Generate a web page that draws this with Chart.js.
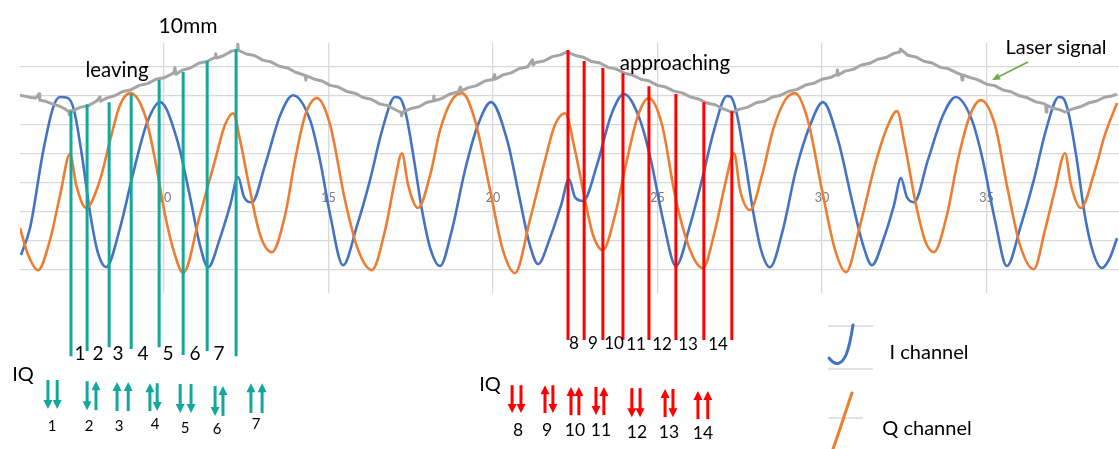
<!DOCTYPE html>
<html><head><meta charset="utf-8">
<script src="https://cdn.jsdelivr.net/npm/chart.js@4.4.1/dist/chart.umd.min.js"></script>
<style>
html,body{margin:0;padding:0;background:#fff;}
#wrap{position:relative;width:1119px;height:449px;overflow:hidden;font-family:Lato,'Liberation Sans',sans-serif;}
#c{position:absolute;left:0;top:0;}
svg{position:absolute;left:0;top:0;}
.t{position:absolute;transform:translate(-50%,-50%);white-space:nowrap;color:#000;line-height:1;}
</style></head><body>
<div id="wrap">
<canvas id="c" width="1119" height="449"></canvas>
<svg width="1119" height="449">
  <line x1="828" y1="326" x2="873" y2="326" stroke="#d9d9d9" stroke-width="1.5"/>
  <line x1="828" y1="369" x2="873" y2="369" stroke="#d9d9d9" stroke-width="1.5"/>
  <line x1="829" y1="418" x2="863" y2="418" stroke="#d9d9d9" stroke-width="1.5"/>
  <path d="M853,325 C851,338 849,348 846,355 C842,364 836,367 829,358" stroke="#4472c4" stroke-width="3" fill="none" stroke-linecap="round"/>
  <path d="M852,393 C846,410 840,430 833,449" stroke="#ed7d31" stroke-width="3" fill="none" stroke-linecap="round"/>
  <line x1="1028" y1="62" x2="998" y2="77" stroke="#70ad47" stroke-width="1.6"/>
  <polygon points="992,80 1000.8,79.5 997.6,73.3" fill="#70ad47"/>
</svg>
<div class="t" style="left:188px;top:24px;font-size:21px">10mm</div>
<div class="t" style="left:117px;top:69px;font-size:20.5px">leaving</div>
<div class="t" style="left:675px;top:62px;font-size:20.5px">approaching</div>
<div class="t" style="left:1056px;top:46px;font-size:20px">Laser signal</div>

<div class="t" style="left:80px;top:352px;font-size:19px">1</div>
<div class="t" style="left:98px;top:352px;font-size:19px">2</div>
<div class="t" style="left:118px;top:352px;font-size:19px">3</div>
<div class="t" style="left:143px;top:352px;font-size:19px">4</div>
<div class="t" style="left:168px;top:352px;font-size:19px">5</div>
<div class="t" style="left:195px;top:352px;font-size:19px">6</div>
<div class="t" style="left:219px;top:352px;font-size:19px">7</div>
<div class="t" style="left:23px;top:373px;font-size:20px">IQ</div>
<div class="t" style="left:52px;top:425px;font-size:15px">1</div>
<div class="t" style="left:89px;top:425px;font-size:15px">2</div>
<div class="t" style="left:119px;top:425px;font-size:15px">3</div>
<div class="t" style="left:155px;top:423px;font-size:15px">4</div>
<div class="t" style="left:185px;top:427px;font-size:15px">5</div>
<div class="t" style="left:217px;top:428px;font-size:15px">6</div>
<div class="t" style="left:256px;top:423px;font-size:15px">7</div>

<div class="t" style="left:574px;top:342px;font-size:17px">8</div>
<div class="t" style="left:593px;top:342px;font-size:17px">9</div>
<div class="t" style="left:614px;top:342px;font-size:17px">10</div>
<div class="t" style="left:636px;top:343px;font-size:17px">11</div>
<div class="t" style="left:662px;top:343px;font-size:17px">12</div>
<div class="t" style="left:688px;top:343px;font-size:17px">13</div>
<div class="t" style="left:718px;top:343px;font-size:17px">14</div>
<div class="t" style="left:490px;top:383px;font-size:20px">IQ</div>
<div class="t" style="left:518px;top:430px;font-size:17.5px">8</div>
<div class="t" style="left:547px;top:430px;font-size:17.5px">9</div>
<div class="t" style="left:575px;top:430px;font-size:17.5px">10</div>
<div class="t" style="left:601px;top:430px;font-size:17.5px">11</div>
<div class="t" style="left:637px;top:432px;font-size:17.5px">12</div>
<div class="t" style="left:669px;top:432px;font-size:17.5px">13</div>
<div class="t" style="left:703px;top:433px;font-size:17.5px">14</div>

<div class="t" style="left:929px;top:351px;font-size:20px">I channel</div>
<div class="t" style="left:927px;top:427px;font-size:20px">Q channel</div>
</div>
<script>
// ---- axis ticks ----
const xTicks = [10, 15, 20, 25, 30, 35];
const yGrid = [-3, -2, -1, 0, 1, 2, 3, 4];

// ---- I channel (blue) ----
const iX = [5.65,5.93,6.32,6.63,6.84,7.08,7.26,7.51,7.75,7.99,8.24,8.66,9.06,9.48,9.88,10.40,10.79,11.09,11.34,11.70,12.01,12.25,12.43,12.67,13.07,13.53,13.92,14.44,14.74,15.05,15.44,15.87,16.26,16.63,17.02,17.17,17.36,17.60,17.84,18.09,18.39,18.75,19.15,19.54,19.94,20.43,20.82,21.12,21.37,21.73,22.07,22.31,22.49,22.74,23.16,23.59,23.98,24.47,24.80,25.17,25.56,25.99,26.35,26.72,27.11,27.23,27.42,27.66,27.90,28.15,28.42,28.81,29.21,29.64,30.03,30.49,30.91,31.25,31.52,31.88,32.19,32.40,32.58,32.80,33.22,33.68,34.07,34.56,34.89,35.26,35.62,36.05,36.44,36.81,37.20,37.33,37.51,37.75,37.99,38.24,38.51,38.75,38.97];
const iY = [-2.48,-1.52,1.07,2.62,2.97,2.93,2.52,0.90,-1.03,-2.41,-2.90,-1.55,0.34,2.07,2.79,1.48,-0.48,-2.14,-2.90,-1.90,-0.76,0.21,-0.48,-0.66,0.62,2.34,3.03,2.17,0.79,-1.10,-2.83,-1.45,0.10,1.83,2.97,2.93,2.34,0.79,-0.93,-2.24,-2.86,-1.62,0.45,2.00,2.79,1.48,-0.59,-2.14,-2.79,-1.90,-0.76,0.14,-0.48,-0.62,0.62,2.34,3.07,2.17,0.79,-1.28,-2.86,-1.45,0.10,1.83,3.00,2.97,2.34,0.79,-0.93,-2.31,-2.90,-1.62,0.45,2.00,2.79,1.48,-0.59,-2.14,-2.83,-1.90,-0.76,0.17,-0.48,-0.66,0.79,2.34,2.97,2.17,0.79,-1.28,-2.86,-1.45,0.10,1.83,2.97,2.93,2.34,0.79,-1.10,-2.38,-2.93,-2.59,-1.90];

// ---- Q channel (orange) ----
const qX = [5.62,5.87,6.17,6.53,6.84,7.14,7.33,7.63,8.05,8.36,8.66,8.97,9.42,9.73,10.03,10.33,10.58,11.09,11.55,11.85,12.10,12.31,12.61,12.92,13.28,13.68,13.98,14.29,14.65,15.05,15.50,15.90,16.32,16.72,17.02,17.23,17.42,17.72,18.09,18.39,18.75,19.06,19.45,19.91,20.30,20.67,21.12,21.58,21.88,22.19,22.49,22.80,23.04,23.34,23.71,24.07,24.41,24.74,25.14,25.53,25.99,26.38,26.75,27.05,27.33,27.51,27.81,28.18,28.51,28.88,29.18,29.57,30.00,30.40,30.73,31.16,31.61,32.01,32.28,32.52,32.83,33.13,33.40,33.80,34.13,34.50,34.83,35.26,35.65,36.02,36.44,36.78,37.08,37.39,37.57,37.87,38.30,38.60,38.97];
const qY = [-1.55,-2.48,-3.00,-1.97,-0.41,1.00,-0.07,-0.86,0.10,1.48,2.69,3.10,2.34,0.79,-1.10,-2.48,-3.10,-1.10,0.79,2.00,2.41,1.48,-0.24,-1.79,-2.38,-1.10,0.79,2.34,2.93,2.00,-0.59,-2.31,-3.00,-1.62,0.10,1.03,-0.07,-0.86,0.28,1.83,2.86,3.10,2.17,-0.24,-2.31,-3.10,-1.28,0.79,2.00,2.41,1.14,-0.59,-1.79,-2.31,-1.10,0.79,2.34,2.93,2.00,-0.41,-2.31,-2.93,-1.62,-0.07,1.03,-0.24,-0.93,0.28,1.83,2.86,3.10,2.17,-0.24,-2.31,-3.07,-1.45,0.62,2.00,2.48,1.31,-0.59,-1.97,-2.38,-1.10,0.79,2.34,2.86,2.00,-0.24,-2.14,-2.97,-1.62,-0.24,1.03,-0.07,-0.86,0.45,1.66,2.76];

// ---- Laser signal (grey) ----
const laserX = [5.62,5.80,5.95,6.10,6.20,6.22,6.40,6.60,6.80,6.95,7.10,7.12,7.15,7.20,
 7.45,7.70,7.95,8.05,8.07,8.25,8.50,8.75,9.00,9.25,9.50,9.75,10.00,10.30,10.33,10.36,10.55,10.80,11.05,11.30,11.55,11.57,11.59,11.80,12.05,12.22,12.24,12.26,
 12.50,12.75,13.00,13.25,13.50,13.75,14.00,14.29,14.31,14.33,14.55,14.80,15.05,15.30,15.55,15.80,16.05,16.30,16.55,16.80,17.05,17.20,17.22,17.26,
 17.50,17.75,18.00,18.18,18.20,18.22,18.45,18.70,18.95,19.00,19.02,19.25,19.50,19.75,20.00,20.05,20.07,20.30,20.55,20.80,21.05,21.20,21.22,21.30,21.55,21.80,22.05,22.25,
 22.50,22.75,23.00,23.25,23.50,23.75,24.00,24.25,24.50,24.75,25.00,25.25,25.50,25.75,26.00,26.25,26.50,26.75,27.00,27.20,27.29,
 27.50,27.75,28.00,28.25,28.50,28.75,29.00,29.25,29.50,29.75,30.00,30.25,30.45,30.47,30.49,30.70,30.95,31.20,31.45,31.70,31.95,32.20,32.37,32.39,
 32.60,32.85,33.10,33.35,33.60,33.85,34.10,34.24,34.26,34.28,34.50,34.75,35.00,35.25,35.50,35.75,36.00,36.25,36.50,36.75,36.80,36.82,36.84,37.00,37.20,37.39,
 37.60,37.85,38.10,38.35,38.60,38.80,38.97];
const laserY = [3.03,2.99,2.95,2.93,3.08,2.86,2.82,2.73,2.66,2.58,2.47,2.36,2.50,2.48,
 2.61,2.67,2.83,2.97,2.82,2.93,3.01,3.16,3.22,3.37,3.43,3.58,3.63,3.80,3.98,3.75,3.89,3.97,4.13,4.19,4.34,4.46,4.31,4.39,4.55,4.59,4.80,4.58,
 4.45,4.40,4.24,4.18,4.03,3.97,3.82,3.71,3.55,3.70,3.59,3.52,3.37,3.31,3.16,3.10,2.95,2.89,2.73,2.67,2.52,2.44,2.32,2.45,
 2.57,2.63,2.79,2.83,3.00,2.84,2.92,3.08,3.14,3.30,3.17,3.29,3.36,3.52,3.57,3.74,3.58,3.73,3.80,3.95,4.01,4.25,4.08,4.16,4.21,4.36,4.42,4.52,
 4.40,4.34,4.19,4.14,3.99,3.93,3.79,3.72,3.58,3.52,3.37,3.31,3.17,3.11,2.97,2.90,2.76,2.70,2.56,2.47,2.45,
 2.55,2.62,2.77,2.82,2.97,3.03,3.17,3.23,3.38,3.44,3.58,3.64,3.74,3.90,3.72,3.86,3.92,4.07,4.13,4.27,4.33,4.48,4.52,4.62,
 4.41,4.35,4.20,4.14,3.99,3.94,3.80,3.74,3.55,3.73,3.64,3.56,3.41,3.36,3.21,3.15,3.01,2.94,2.80,2.74,2.70,2.45,2.68,2.59,2.54,2.45,
 2.55,2.63,2.76,2.83,2.96,3.00,3.07];

// ---- vertical marker lines ----
const greenX = [7.17, 7.66, 8.33, 9.00, 9.85, 10.58, 11.31, 12.19];
const greenTop = [2.48, 2.72, 2.79, 3.07, 3.55, 3.83, 4.21, 4.62];
const greenBottom = [-5.97, -5.79, -5.66, -5.72, -5.66, -5.93, -5.79, -5.97];
const redX = [22.28, 22.77, 23.34, 23.95, 24.74, 25.56, 26.41, 27.26];
const redTop = [4.59, 4.21, 3.97, 3.79, 3.34, 3.07, 2.79, 2.48];
const redBottom = [-5.41, -5.41, -5.41, -5.41, -5.41, -5.41, -5.41, -5.41];

// ---- IQ direction arrows (1 = up, -1 = down) ----
const greenArrowX = [6.47,6.75, 7.66,7.93, 8.57,8.91, 9.57,9.79, 10.49,10.82, 11.55,11.79, 12.64,12.98];
const greenArrowDir = [-1,-1, -1,1, 1,1, 1,-1, -1,-1, -1,1, 1,1];
const greenArrowTop = [-6.79,-6.79, -6.83,-6.83, -6.86,-6.86, -6.90,-6.90, -6.93,-6.93, -7.00,-7.00, -6.90,-6.90];
const greenArrowBottom = [-7.79,-7.79, -7.83,-7.83, -7.86,-7.86, -7.86,-7.86, -7.93,-7.93, -8.03,-8.03, -7.93,-7.93];
const redArrowX = [20.58,20.85, 21.58,21.82, 22.37,22.61, 23.13,23.37, 24.22,24.47, 25.23,25.47, 26.23,26.53];
const redArrowDir = [-1,-1, 1,-1, 1,1, -1,1, -1,-1, 1,-1, 1,1];
const redArrowTop = [-6.97,-6.97, -6.97,-6.97, -7.03,-7.03, -7.03,-7.03, -7.07,-7.07, -7.10,-7.10, -7.17,-7.17];
const redArrowBottom = [-7.93,-7.93, -7.93,-7.93, -8.00,-8.00, -8.00,-8.00, -8.07,-8.07, -8.07,-8.07, -8.14,-8.14];

const GREEN = '#13a89b', RED = '#ff0000';
const pts = (xs, ys) => xs.map((x, k) => ({x, y: ys[k]}));
const vlines = (xs, tops, bots) => xs.flatMap((x, k) => [{x, y: tops[k]}, {x, y: bots[k]}, {x, y: null}]);

const arrowPlugin = {
  id: 'iqArrows',
  afterDatasetsDraw(chart) {
    const {ctx, scales: {x, y}} = chart;
    const draw = (xs, dirs, tops, bots, color) => {
      ctx.save();
      ctx.strokeStyle = color; ctx.fillStyle = color; ctx.lineWidth = 3; ctx.lineCap = 'butt';
      xs.forEach((v, k) => {
        const px = x.getPixelForValue(v);
        const yt = y.getPixelForValue(tops[k]);
        const yb = y.getPixelForValue(bots[k]);
        const head = 9, hw = 4.5;
        ctx.beginPath();
        if (dirs[k] > 0) {
          ctx.moveTo(px, yb); ctx.lineTo(px, yt + head - 1); ctx.stroke();
          ctx.beginPath(); ctx.moveTo(px, yt); ctx.lineTo(px - hw, yt + head); ctx.lineTo(px + hw, yt + head); ctx.closePath(); ctx.fill();
        } else {
          ctx.moveTo(px, yt); ctx.lineTo(px, yb - head + 1); ctx.stroke();
          ctx.beginPath(); ctx.moveTo(px, yb); ctx.lineTo(px - hw, yb - head); ctx.lineTo(px + hw, yb - head); ctx.closePath(); ctx.fill();
        }
      });
      ctx.restore();
    };
    draw(greenArrowX, greenArrowDir, greenArrowTop, greenArrowBottom, GREEN);
    draw(redArrowX, redArrowDir, redArrowTop, redArrowBottom, RED);
  }
};

new Chart(document.getElementById('c'), {
  type: 'line',
  data: {
    datasets: [
      {label: 'approaching', data: vlines(redX, redTop, redBottom), borderColor: RED, borderWidth: 3, pointRadius: 0, clip: false, spanGaps: false, order: 0, borderCapStyle: 'butt'},
      {label: 'leaving', data: vlines(greenX, greenTop, greenBottom), borderColor: GREEN, borderWidth: 3, pointRadius: 0, clip: false, spanGaps: false, order: 0, borderCapStyle: 'butt'},
      {label: 'Laser signal', data: pts(laserX, laserY), borderColor: '#a5a5a5', borderWidth: 3, pointRadius: 0, tension: 0, borderJoinStyle: 'round', order: 1},
      {label: 'Q channel', data: pts(qX, qY), borderColor: '#ed7d31', borderWidth: 2.6, pointRadius: 0, cubicInterpolationMode: 'monotone', order: 2},
      {label: 'I channel', data: pts(iX, iY), borderColor: '#4472c4', borderWidth: 2.6, pointRadius: 0, cubicInterpolationMode: 'monotone', order: 3}
    ]
  },
  options: {
    responsive: false,
    animation: false,
    events: [],
    layout: {padding: {left: 20, right: 0, top: 43, bottom: 156}},
    plugins: {legend: {display: false}, tooltip: {enabled: false}},
    scales: {
      x: {
        type: 'linear', min: 5.62, max: 39.03,
        position: {y: 0},
        afterBuildTicks: s => { s.ticks = xTicks.map(v => ({value: v})); },
        grid: {color: '#d9d9d9', lineWidth: 1.3, drawTicks: false},
        border: {display: false},
        ticks: {color: '#7a7a7a', font: {size: 12.5, family: 'Lato, sans-serif'}, padding: 7}
      },
      y: {
        type: 'linear', min: -3.79, max: 4.83,
        afterBuildTicks: s => { s.ticks = yGrid.map(v => ({value: v})); },
        grid: {color: '#d9d9d9', lineWidth: 1.3, drawTicks: false},
        border: {display: false},
        ticks: {display: false}
      }
    }
  },
  plugins: [arrowPlugin]
});
</script>
</body></html>
